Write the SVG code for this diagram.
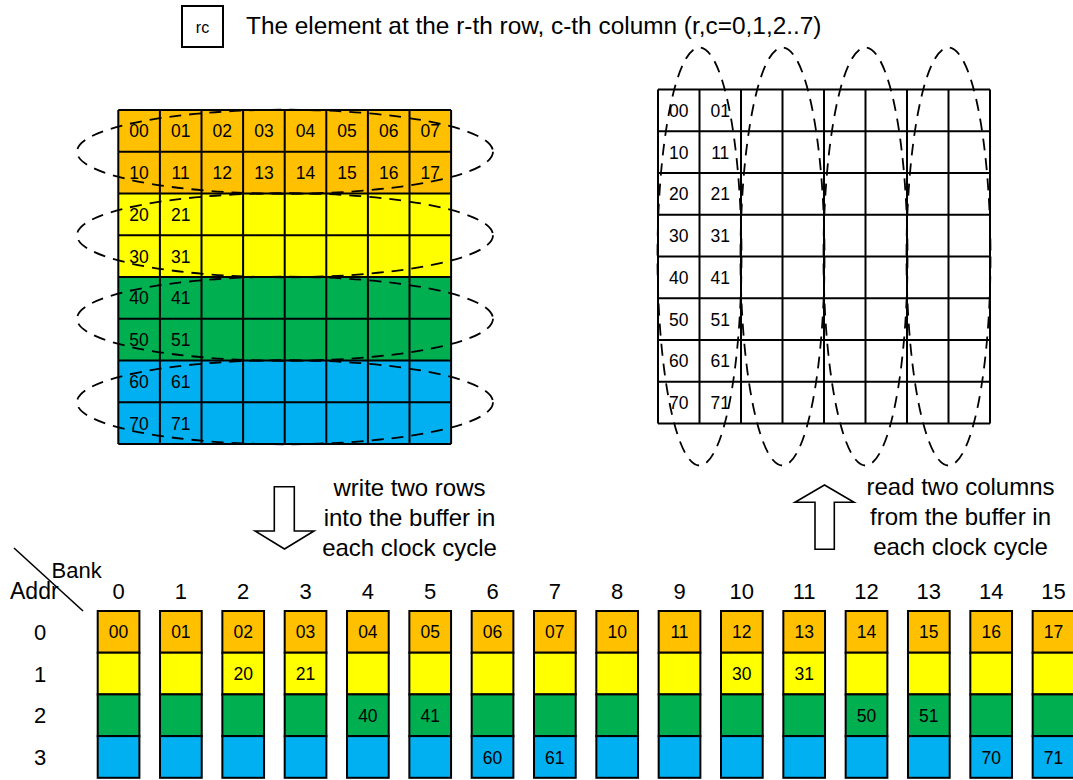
<svg xmlns="http://www.w3.org/2000/svg" xmlns:xlink="http://www.w3.org/1999/xlink" width="1073" height="780" viewBox="0 0 1073 780">
  <style>
    text { font-family: "Liberation Sans", Arial, sans-serif; fill: #000; }
    .cell { font-size: 17.5px; text-anchor: middle; }
    .num { font-size: 22px; text-anchor: middle; }
    .lbl { font-size: 24px; text-anchor: middle; }
    .grid { fill: none; stroke: #000; stroke-width: 2; }
    .loop { fill: none; stroke: #000; stroke-width: 1.8; stroke-dasharray: 12 8; }
    .or { fill: #FFC000; }
    .ye { fill: #FFFF00; }
    .gr { fill: #00B050; }
    .bl { fill: #00B0F0; }
    .box { stroke: #000; stroke-width: 2; }
    .arrow { fill: #fff; stroke: #000; stroke-width: 1.6; stroke-linejoin: miter; }
  </style>
  <defs>
    <!-- one memory bank: four addresses, coloured by row pair -->
    <g id="bankCol">
      <rect class="or box" x="0" y="611" width="41.7" height="41.7"/>
      <rect class="ye box" x="0" y="652.7" width="41.7" height="41.7"/>
      <rect class="gr box" x="0" y="694.4" width="41.7" height="41.7"/>
      <rect class="bl box" x="0" y="736.1" width="41.7" height="41.7"/>
    </g>
  </defs>

  <rect width="1073" height="780" fill="#fff"/>

  <!-- legend -->
  <g id="legend">
    <rect x="182" y="6" width="41" height="41" fill="#fff" stroke="#000" stroke-width="2"/>
    <text x="202.5" y="33" font-size="16" text-anchor="middle">rc</text>
    <text x="246" y="34" font-size="24.4">The element at the r-th row, c-th column (r,c=0,1,2..7)</text>
  </g>

  <!-- source matrix, row-major -->
  <g id="matrix-rows">
    <rect class="or" x="118.3" y="110" width="332.8" height="83.5"/>
    <rect class="ye" x="118.3" y="193.5" width="332.8" height="83.5"/>
    <rect class="gr" x="118.3" y="277" width="332.8" height="83.5"/>
    <rect class="bl" x="118.3" y="360.5" width="332.8" height="83.5"/>
    <path class="grid" d="M118.3 110H451.1M118.3 151.75H451.1M118.3 193.5H451.1M118.3 235.25H451.1M118.3 277H451.1M118.3 318.75H451.1M118.3 360.5H451.1M118.3 402.25H451.1M118.3 444H451.1
      M118.3 110V444M159.9 110V444M201.5 110V444M243.1 110V444M284.7 110V444M326.3 110V444M367.9 110V444M409.5 110V444M451.1 110V444"/>
    <g class="cellText">
      <text class="cell" x="139.1" y="137.4">00</text>
      <text class="cell" x="180.7" y="137.4">01</text>
      <text class="cell" x="222.3" y="137.4">02</text>
      <text class="cell" x="263.9" y="137.4">03</text>
      <text class="cell" x="305.5" y="137.4">04</text>
      <text class="cell" x="347.1" y="137.4">05</text>
      <text class="cell" x="388.7" y="137.4">06</text>
      <text class="cell" x="430.3" y="137.4">07</text>
      <text class="cell" x="139.1" y="179.1">10</text>
      <text class="cell" x="180.7" y="179.1">11</text>
      <text class="cell" x="222.3" y="179.1">12</text>
      <text class="cell" x="263.9" y="179.1">13</text>
      <text class="cell" x="305.5" y="179.1">14</text>
      <text class="cell" x="347.1" y="179.1">15</text>
      <text class="cell" x="388.7" y="179.1">16</text>
      <text class="cell" x="430.3" y="179.1">17</text>
      <text class="cell" x="139.1" y="220.9">20</text>
      <text class="cell" x="180.7" y="220.9">21</text>
      <text class="cell" x="139.1" y="262.6">30</text>
      <text class="cell" x="180.7" y="262.6">31</text>
      <text class="cell" x="139.1" y="304.4">40</text>
      <text class="cell" x="180.7" y="304.4">41</text>
      <text class="cell" x="139.1" y="346.1">50</text>
      <text class="cell" x="180.7" y="346.1">51</text>
      <text class="cell" x="139.1" y="387.9">60</text>
      <text class="cell" x="180.7" y="387.9">61</text>
      <text class="cell" x="139.1" y="429.6">70</text>
      <text class="cell" x="180.7" y="429.6">71</text>
    </g>
    <!-- two-row write groups -->
    <ellipse class="loop" cx="285" cy="151.75" rx="208" ry="42"/>
    <ellipse class="loop" cx="285" cy="235.25" rx="208" ry="42"/>
    <ellipse class="loop" cx="285" cy="318.75" rx="208" ry="42"/>
    <ellipse class="loop" cx="285" cy="402.25" rx="208" ry="42"/>
  </g>

  <!-- destination matrix, column-major read -->
  <g id="matrix-cols">
    <rect x="658" y="89.5" width="332" height="334" fill="#fff"/>
    <path class="grid" d="M658 89.5H990M658 131.25H990M658 173H990M658 214.75H990M658 256.5H990M658 298.25H990M658 340H990M658 381.75H990M658 423.5H990
      M658 89.5V423.5M699.5 89.5V423.5M741 89.5V423.5M782.5 89.5V423.5M824 89.5V423.5M865.5 89.5V423.5M907 89.5V423.5M948.5 89.5V423.5M990 89.5V423.5"/>
    <g class="cellText">
      <text class="cell" x="678.75" y="116.9">00</text>
      <text class="cell" x="720.25" y="116.9">01</text>
      <text class="cell" x="678.75" y="158.6">10</text>
      <text class="cell" x="720.25" y="158.6">11</text>
      <text class="cell" x="678.75" y="200.4">20</text>
      <text class="cell" x="720.25" y="200.4">21</text>
      <text class="cell" x="678.75" y="242.1">30</text>
      <text class="cell" x="720.25" y="242.1">31</text>
      <text class="cell" x="678.75" y="283.9">40</text>
      <text class="cell" x="720.25" y="283.9">41</text>
      <text class="cell" x="678.75" y="325.6">50</text>
      <text class="cell" x="720.25" y="325.6">51</text>
      <text class="cell" x="678.75" y="367.4">60</text>
      <text class="cell" x="720.25" y="367.4">61</text>
      <text class="cell" x="678.75" y="409.1">70</text>
      <text class="cell" x="720.25" y="409.1">71</text>
    </g>
    <!-- two-column read groups -->
    <ellipse class="loop" cx="699.5" cy="256.5" rx="42" ry="209"/>
    <ellipse class="loop" cx="782.5" cy="256.5" rx="42" ry="209"/>
    <ellipse class="loop" cx="865.5" cy="256.5" rx="42" ry="209"/>
    <ellipse class="loop" cx="948.5" cy="256.5" rx="42" ry="209"/>
  </g>

  <!-- block arrows -->
  <g id="connectors">
    <polygon id="write-arrow" class="arrow" points="274.3,486.7 294.3,486.7 294.3,531 314,531 284.5,549 255,531 274.3,531"/>
    <polygon id="read-arrow" class="arrow" points="824.5,485 854,502.3 834.3,502.3 834.3,549.3 815,549.3 815,502.3 795,502.3"/>
  </g>

  <g id="write-label">
    <text class="lbl" x="409.5" y="496">write two rows</text>
    <text class="lbl" x="409.5" y="526">into the buffer in</text>
    <text class="lbl" x="409.5" y="556">each clock cycle</text>
  </g>
  <g id="read-label">
    <text class="lbl" x="960.5" y="495">read two columns</text>
    <text class="lbl" x="960.5" y="525">from the buffer in</text>
    <text class="lbl" x="960.5" y="555">each clock cycle</text>
  </g>

  <!-- bank / address header -->
  <g id="axis">
    <line x1="14" y1="548" x2="83" y2="611" stroke="#000" stroke-width="1.6"/>
    <text x="51.5" y="578" font-size="22">Bank</text>
    <text x="10" y="599" font-size="23">Addr</text>
    <text class="num" x="40" y="639.8">0</text>
    <text class="num" x="40" y="681.5">1</text>
    <text class="num" x="40" y="723.2">2</text>
    <text class="num" x="40" y="764.9">3</text>
  </g>

  <!-- sixteen banks of the buffer -->
  <g id="bank-0" transform="translate(97.7,0)"><use xlink:href="#bankCol" href="#bankCol"/><text class="num" x="20.85" y="599">0</text><text class="cell" x="20.85" y="638.4">00</text></g>
  <g id="bank-1" transform="translate(160.03,0)"><use xlink:href="#bankCol" href="#bankCol"/><text class="num" x="20.85" y="599">1</text><text class="cell" x="20.85" y="638.4">01</text></g>
  <g id="bank-2" transform="translate(222.36,0)"><use xlink:href="#bankCol" href="#bankCol"/><text class="num" x="20.85" y="599">2</text><text class="cell" x="20.85" y="638.4">02</text><text class="cell" x="20.85" y="680">20</text></g>
  <g id="bank-3" transform="translate(284.69,0)"><use xlink:href="#bankCol" href="#bankCol"/><text class="num" x="20.85" y="599">3</text><text class="cell" x="20.85" y="638.4">03</text><text class="cell" x="20.85" y="680">21</text></g>
  <g id="bank-4" transform="translate(347.02,0)"><use xlink:href="#bankCol" href="#bankCol"/><text class="num" x="20.85" y="599">4</text><text class="cell" x="20.85" y="638.4">04</text><text class="cell" x="20.85" y="721.8">40</text></g>
  <g id="bank-5" transform="translate(409.35,0)"><use xlink:href="#bankCol" href="#bankCol"/><text class="num" x="20.85" y="599">5</text><text class="cell" x="20.85" y="638.4">05</text><text class="cell" x="20.85" y="721.8">41</text></g>
  <g id="bank-6" transform="translate(471.68,0)"><use xlink:href="#bankCol" href="#bankCol"/><text class="num" x="20.85" y="599">6</text><text class="cell" x="20.85" y="638.4">06</text><text class="cell" x="20.85" y="763.5">60</text></g>
  <g id="bank-7" transform="translate(534.01,0)"><use xlink:href="#bankCol" href="#bankCol"/><text class="num" x="20.85" y="599">7</text><text class="cell" x="20.85" y="638.4">07</text><text class="cell" x="20.85" y="763.5">61</text></g>
  <g id="bank-8" transform="translate(596.34,0)"><use xlink:href="#bankCol" href="#bankCol"/><text class="num" x="20.85" y="599">8</text><text class="cell" x="20.85" y="638.4">10</text></g>
  <g id="bank-9" transform="translate(658.67,0)"><use xlink:href="#bankCol" href="#bankCol"/><text class="num" x="20.85" y="599">9</text><text class="cell" x="20.85" y="638.4">11</text></g>
  <g id="bank-10" transform="translate(721,0)"><use xlink:href="#bankCol" href="#bankCol"/><text class="num" x="20.85" y="599">10</text><text class="cell" x="20.85" y="638.4">12</text><text class="cell" x="20.85" y="680">30</text></g>
  <g id="bank-11" transform="translate(783.33,0)"><use xlink:href="#bankCol" href="#bankCol"/><text class="num" x="20.85" y="599">11</text><text class="cell" x="20.85" y="638.4">13</text><text class="cell" x="20.85" y="680">31</text></g>
  <g id="bank-12" transform="translate(845.66,0)"><use xlink:href="#bankCol" href="#bankCol"/><text class="num" x="20.85" y="599">12</text><text class="cell" x="20.85" y="638.4">14</text><text class="cell" x="20.85" y="721.8">50</text></g>
  <g id="bank-13" transform="translate(907.99,0)"><use xlink:href="#bankCol" href="#bankCol"/><text class="num" x="20.85" y="599">13</text><text class="cell" x="20.85" y="638.4">15</text><text class="cell" x="20.85" y="721.8">51</text></g>
  <g id="bank-14" transform="translate(970.32,0)"><use xlink:href="#bankCol" href="#bankCol"/><text class="num" x="20.85" y="599">14</text><text class="cell" x="20.85" y="638.4">16</text><text class="cell" x="20.85" y="763.5">70</text></g>
  <g id="bank-15" transform="translate(1032.65,0)"><use xlink:href="#bankCol" href="#bankCol"/><text class="num" x="20.85" y="599">15</text><text class="cell" x="20.85" y="638.4">17</text><text class="cell" x="20.85" y="763.5">71</text></g>
</svg>
